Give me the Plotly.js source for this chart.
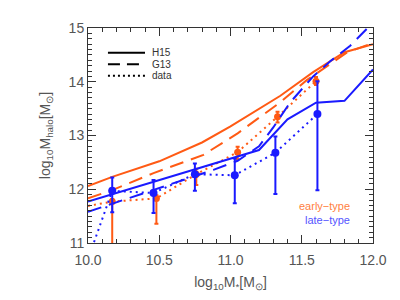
<!DOCTYPE html>
<html><head><meta charset="utf-8">
<script src="https://cdn.plot.ly/plotly-3.0.1.min.js"></script>
<style>html,body{margin:0;padding:0;background:#fff;}#c{width:400px;height:300px;}</style>
</head><body><div id="c"></div>
<script>
// H15 model curves
const h15EarlyX = [10.0, 10.17, 10.5, 10.8, 11.0, 11.2, 11.35, 11.58, 11.8, 12.0];
const h15EarlyY = [12.06, 12.23, 12.52, 12.87, 13.17, 13.50, 13.74, 14.18, 14.55, 14.70];
const h15LateX = [10.0, 10.75, 11.2, 11.4, 11.6, 11.8, 12.0];
const h15LateY = [11.77, 12.37, 12.73, 13.30, 13.61, 13.645, 14.23];
// G13 model curves
const g13EarlyX = [10.0, 10.17, 10.46, 10.81, 11.05, 11.35, 11.535, 11.82, 12.0];
const g13EarlyY = [11.83, 11.985, 12.30, 12.64, 13.04, 13.62, 14.03, 14.55, 14.72];
const g13LateX = [10.0, 10.88, 11.05, 11.2, 11.3, 11.42, 11.58, 11.7, 11.84, 12.0];
const g13LateY = [11.58, 12.36, 12.53, 12.80, 13.15, 13.62, 14.10, 14.38, 14.67, 15.1];
// data points
const earlyX = [10.17, 10.48, 10.76, 11.05, 11.33, 11.60];
const earlyY = [11.77, 11.83, 12.28, 12.69, 13.35, 14.01];
const earlyErrUp = [0.05, 0.06, 0.10, 0.10, 0.09, 0.08];
const earlyErrDn = [1.5, 0.47, 0.20, 0.13, 0.11, 0.07];
const lateX = [10.17, 10.46, 10.75, 11.03, 11.315, 11.61];
const lateY = [11.97, 11.93, 12.28, 12.26, 12.68, 13.40];
const lateErrUp = [0.25, 0.24, 0.20, 0.31, 0.30, 0.61];
const lateErrDn = [0.40, 0.37, 0.31, 0.52, 0.77, 1.42];
// dotted "data" lines (include entry from left edge)
const earlyLineX = [10.0].concat(earlyX);
const earlyLineY = [11.69].concat(earlyY);
const lateLineX = [10.0].concat(lateX);
const lateLineY = [10.7].concat(lateY);

const legendNames = ['H15', 'G13', 'data'];
const xTickVals = [10.0, 10.5, 11.0, 11.5, 12.0];
const xTickText = ['10.0', '10.5', '11.0', '11.5', '12.0'];
const yTickVals = [11, 12, 13, 14, 15];

const OR = '#ff5a14', BL = '#1a1aff';
const FONT = 'Liberation Sans, Arial, sans-serif';
function line(x, y, c, dash) {
  return {x: x, y: y, mode: 'lines', type: 'scatter', showlegend: false, hoverinfo: 'skip',
          line: {color: c, width: 2, dash: dash}};
}
function pts(x, y, up, dn, c, sz) {
  return {x: x, y: y, mode: 'markers', type: 'scatter', showlegend: false,
          marker: {color: c, size: sz},
          error_y: {type: 'data', symmetric: false, array: up, arrayminus: dn, color: c, thickness: 2, width: 2}};
}
const data = [
  line(h15EarlyX, h15EarlyY, OR, 'solid'),
  line(g13EarlyX, g13EarlyY, OR, '14px,8px'),
  line(earlyLineX, earlyLineY, OR, '2px,4px'),
  pts(earlyX, earlyY, earlyErrUp, earlyErrDn, OR, 7),
  line(h15LateX, h15LateY, BL, 'solid'),
  line(g13LateX, g13LateY, BL, '14px,8px'),
  line(lateLineX, lateLineY, BL, '2px,4px'),
  pts(lateX, lateY, lateErrUp, lateErrDn, BL, 8)
];

const dashes = ['solid', '12px,7px', '2px,3px'];
const legY = [0.885, 0.831, 0.778];
const shapes = [], annotations = [];
legendNames.forEach((n, i) => {
  shapes.push({type: 'line', xref: 'paper', yref: 'paper', x0: 0.07, x1: 0.2, y0: legY[i], y1: legY[i],
               line: {color: '#000', width: 2, dash: dashes[i]}});
  annotations.push({xref: 'paper', yref: 'paper', x: 0.2175, y: legY[i], text: n, showarrow: false,
                    xanchor: 'left', yanchor: 'middle', font: {family: FONT, size: 10, color: '#333'}});
});
annotations.push({xref: 'paper', yref: 'paper', x: 0.925, y: 0.17, text: 'early\u2212type', showarrow: false,
                  xanchor: 'right', yanchor: 'middle', font: {family: FONT, size: 11, color: '#ff7f3f'}});
annotations.push({xref: 'paper', yref: 'paper', x: 0.925, y: 0.105, text: 'late\u2212type', showarrow: false,
                  xanchor: 'right', yanchor: 'middle', font: {family: FONT, size: 11, color: '#5555ff'}});

const axCommon = {showgrid: false, zeroline: false, showline: true, linecolor: '#333', linewidth: 1,
  mirror: 'ticks', ticks: 'inside', ticklen: 8, tickcolor: '#333', tickwidth: 1,
  tickfont: {family: FONT, size: 14, color: '#555'},
  minor: {dtick: 0.1, ticks: 'inside', ticklen: 4, tickcolor: '#333', tickwidth: 1, showgrid: false}};

const layout = {
  width: 400, height: 300,
  margin: {l: 88, r: 27, t: 28, b: 57},
  paper_bgcolor: '#fff', plot_bgcolor: '#fff',
  xaxis: Object.assign({}, axCommon, {range: [10, 12], tickvals: xTickVals, ticktext: xTickText, ticklabelstandoff: 4,
    title: {text: 'log<sub>10</sub>M<sub>*</sub>[M<sub>\u2299</sub>]', font: {family: FONT, size: 14, color: '#555'}, standoff: 10}}),
  yaxis: Object.assign({}, axCommon, {range: [11, 15], tickvals: yTickVals,
    title: {text: 'log<sub>10</sub>M<sub>halo</sub>[M<sub>\u2299</sub>]', font: {family: FONT, size: 14, color: '#555'}, standoff: 14}}),
  shapes: shapes, annotations: annotations
};
Plotly.newPlot('c', data, layout, {staticPlot: true, displayModeBar: false});
</script></body></html>
